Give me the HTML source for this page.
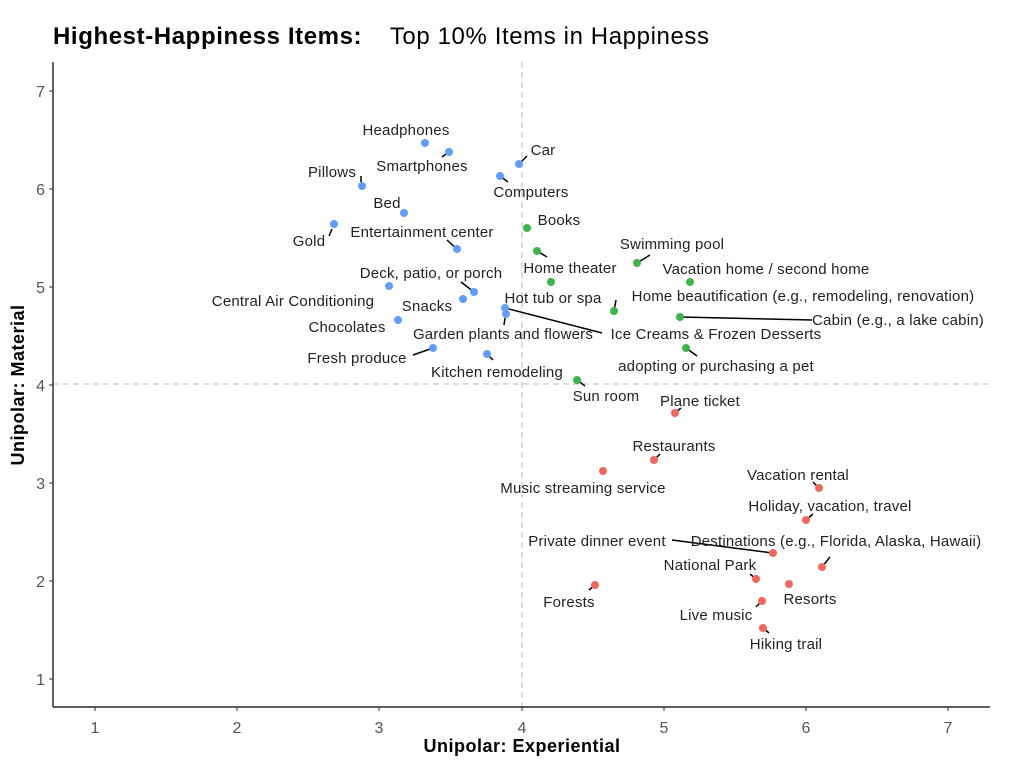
<!DOCTYPE html>
<html><head><meta charset="utf-8"><style>
html,body{margin:0;padding:0;background:#fff;}
svg{display:block;font-family:"Liberation Sans",sans-serif;}
.l{font-size:15px;fill:#222;text-anchor:middle;letter-spacing:0.2px;}
.t{font-size:16px;fill:#555;}
</style></head><body>
<svg width="1024" height="783" viewBox="0 0 1024 783">
<text x="53" y="44" font-size="24" fill="#000" letter-spacing="0.6"><tspan font-weight="bold">Highest-Happiness Items:</tspan><tspan x="383"> Top 10% Items in Happiness</tspan></text>
<line x1="522" y1="62" x2="522" y2="707" stroke="#bbb" stroke-dasharray="6,4"/>
<line x1="53" y1="384" x2="990" y2="384" stroke="#bbb" stroke-dasharray="6,4"/>
<line x1="53" y1="62" x2="53" y2="707" stroke="#000" stroke-width="1.2"/>
<line x1="53" y1="707" x2="990" y2="707" stroke="#000" stroke-width="1.2"/>
<g stroke="#333">
<line x1="95" y1="707" x2="95" y2="711"/><line x1="237" y1="707" x2="237" y2="711"/><line x1="379" y1="707" x2="379" y2="711"/><line x1="522" y1="707" x2="522" y2="711"/><line x1="664" y1="707" x2="664" y2="711"/><line x1="806" y1="707" x2="806" y2="711"/><line x1="948" y1="707" x2="948" y2="711"/>
<line x1="49" y1="91" x2="53" y2="91"/><line x1="49" y1="189" x2="53" y2="189"/><line x1="49" y1="287" x2="53" y2="287"/><line x1="49" y1="385" x2="53" y2="385"/><line x1="49" y1="483" x2="53" y2="483"/><line x1="49" y1="581" x2="53" y2="581"/><line x1="49" y1="679" x2="53" y2="679"/>
</g>
<g class="t" text-anchor="middle">
<text x="95" y="733">1</text><text x="237" y="733">2</text><text x="379" y="733">3</text><text x="522" y="733">4</text><text x="664" y="733">5</text><text x="806" y="733">6</text><text x="948" y="733">7</text>
</g>
<g class="t" text-anchor="end">
<text x="45" y="97">7</text><text x="45" y="195">6</text><text x="45" y="293">5</text><text x="45" y="391">4</text><text x="45" y="489">3</text><text x="45" y="587">2</text><text x="45" y="685">1</text>
</g>
<text x="522" y="752" font-size="18" font-weight="bold" text-anchor="middle" letter-spacing="0.5">Unipolar: Experiential</text>
<text transform="translate(24,385) rotate(-90)" font-size="18" font-weight="bold" text-anchor="middle" letter-spacing="0.5">Unipolar: Material</text>
<g stroke="#000" stroke-width="1.5">
<line x1="449" y1="152" x2="442" y2="157"/><line x1="519" y1="164" x2="527" y2="156"/><line x1="361" y1="182" x2="361" y2="176"/>
<line x1="500" y1="176" x2="508" y2="182"/><line x1="332" y1="229" x2="329" y2="236"/><line x1="457" y1="249" x2="447" y2="240"/>
<line x1="474" y1="292" x2="461" y2="282"/><line x1="505" y1="318" x2="504" y2="325"/><line x1="505" y1="308" x2="602" y2="333"/>
<line x1="433" y1="348" x2="413" y2="355"/><line x1="487" y1="354" x2="493" y2="360"/>
<line x1="537" y1="251" x2="547" y2="257"/><line x1="637" y1="263" x2="650" y2="255"/><line x1="614" y1="311" x2="616" y2="300"/>
<line x1="680" y1="317" x2="812" y2="320"/><line x1="686" y1="348" x2="697" y2="356"/><line x1="577" y1="380" x2="585" y2="386"/>
<line x1="675" y1="413" x2="681" y2="408"/><line x1="654" y1="460" x2="660" y2="454"/><line x1="819" y1="488" x2="813" y2="482"/>
<line x1="806" y1="520" x2="813" y2="514"/><line x1="672" y1="540" x2="773" y2="553"/><line x1="822" y1="567" x2="830" y2="557"/>
<line x1="756" y1="579" x2="750" y2="574"/><line x1="595" y1="585" x2="589" y2="590"/><line x1="762" y1="601" x2="756" y2="607"/>
<line x1="763" y1="628" x2="769" y2="633"/>
</g>
<g fill="#619CFF">
<circle cx="425" cy="143" r="4"/><circle cx="449" cy="152" r="4"/><circle cx="519" cy="164" r="4"/><circle cx="362" cy="186" r="4"/>
<circle cx="500" cy="176" r="4"/><circle cx="404" cy="213" r="4"/><circle cx="334" cy="224" r="4"/><circle cx="457" cy="249" r="4"/>
<circle cx="474" cy="292" r="4"/><circle cx="389" cy="286" r="4"/><circle cx="463" cy="299" r="4"/><circle cx="398" cy="320" r="4"/>
<circle cx="506" cy="314" r="4"/><circle cx="505" cy="308" r="4"/><circle cx="433" cy="348" r="4"/><circle cx="487" cy="354" r="4"/>
</g>
<g fill="#3DB54A">
<circle cx="527" cy="228" r="4"/><circle cx="537" cy="251" r="4"/><circle cx="637" cy="263" r="4"/><circle cx="690" cy="282" r="4"/>
<circle cx="551" cy="282" r="4"/><circle cx="614" cy="311" r="4"/><circle cx="680" cy="317" r="4"/><circle cx="686" cy="348" r="4"/>
<circle cx="577" cy="380" r="4"/>
</g>
<g fill="#F0675E">
<circle cx="675" cy="413" r="4"/><circle cx="654" cy="460" r="4"/><circle cx="603" cy="471" r="4"/><circle cx="819" cy="488" r="4"/>
<circle cx="806" cy="520" r="4"/><circle cx="773" cy="553" r="4"/><circle cx="822" cy="567" r="4"/><circle cx="756" cy="579" r="4"/>
<circle cx="789" cy="584" r="4"/><circle cx="595" cy="585" r="4"/><circle cx="762" cy="601" r="4"/><circle cx="763" cy="628" r="4"/>
</g>
<g class="l">
<text x="406" y="135">Headphones</text><text x="422" y="171">Smartphones</text><text x="543" y="155">Car</text>
<text x="332" y="177">Pillows</text><text x="531" y="197">Computers</text><text x="387" y="208">Bed</text>
<text x="309" y="246">Gold</text><text x="422" y="237">Entertainment center</text><text x="431" y="278">Deck, patio, or porch</text>
<text x="293" y="306">Central Air Conditioning</text><text x="427" y="311">Snacks</text><text x="347" y="332">Chocolates</text>
<text x="503" y="339">Garden plants and flowers</text><text x="716" y="339">Ice Creams &amp; Frozen Desserts</text>
<text x="357" y="363">Fresh produce</text><text x="497" y="377">Kitchen remodeling</text>
<text x="559" y="225">Books</text><text x="570" y="273">Home theater</text><text x="672" y="249">Swimming pool</text>
<text x="766" y="274">Vacation home / second home</text><text x="553" y="303">Hot tub or spa</text>
<text x="803" y="301">Home beautification (e.g., remodeling, renovation)</text><text x="898" y="325">Cabin (e.g., a lake cabin)</text>
<text x="716" y="371">adopting or purchasing a pet</text><text x="606" y="401">Sun room</text>
<text x="700" y="406">Plane ticket</text><text x="674" y="451">Restaurants</text><text x="583" y="493">Music streaming service</text>
<text x="798" y="480">Vacation rental</text><text x="830" y="511">Holiday, vacation, travel</text>
<text x="597" y="546">Private dinner event</text><text x="836" y="546">Destinations (e.g., Florida, Alaska, Hawaii)</text>
<text x="710" y="570">National Park</text><text x="810" y="604">Resorts</text><text x="569" y="607">Forests</text>
<text x="716" y="620">Live music</text><text x="786" y="649">Hiking trail</text>
</g>
</svg>
</body></html>
